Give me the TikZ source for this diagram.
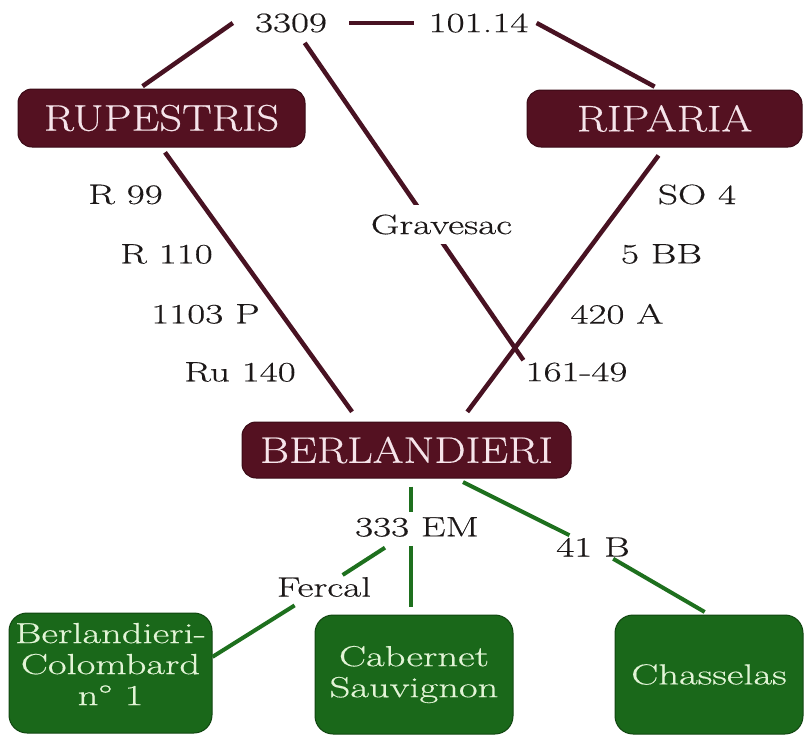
\documentclass[tikz,border=0pt]{standalone}
\usepackage{fontspec}
\setmainfont{Latin Modern Roman}[FakeStretch=1.4, FakeBold=0.4]
\newfontfamily\speciesfont{Latin Modern Roman}[FakeStretch=1.2, FakeBold=0.4]
\usepackage{tikz}
\definecolor{winecol}{RGB}{84,17,33}
\definecolor{wineedge}{RGB}{58,10,22}
\definecolor{winetext}{RGB}{246,228,234}
\definecolor{leafcol}{RGB}{26,104,26}
\definecolor{leafedge}{RGB}{16,70,16}
\definecolor{leaftext}{RGB}{226,244,214}
\definecolor{linewine}{RGB}{72,18,34}
\definecolor{lineleaf}{RGB}{30,112,30}
\definecolor{clonecol}{RGB}{28,24,24}
\tikzset{
  species/.style={draw=wineedge, fill=winecol, text=winetext, line width=1pt,
    rounded corners=14pt, font=\speciesfont\fontsize{37}{42}\selectfont},
  cultivar/.style={draw=leafedge, fill=leafcol, text=leaftext, line width=1pt,
    rounded corners=18pt, align=center, font=\fontsize{29}{31}\selectfont},
  clonelab/.style={text=clonecol, inner sep=2pt, font=\fontsize{28}{32}\selectfont},
  speciesline/.style={linewine, line width=4.5pt},
  graftline/.style={lineleaf, line width=4pt}
}

\begin{document}
\begin{tikzpicture}[x=1pt, y=-1pt]

  \useasboundingbox (0,0) rectangle (804,736);

  % Species boxes.
  \node[species, minimum width=287pt, minimum height=58pt] (rupestris) at (161.5,118) {RUPESTRIS};
  \node[species, minimum width=275pt, minimum height=57pt] (riparia) at (664.5,118.5) {RIPARIA};
  \node[species, minimum width=329pt, minimum height=56pt] (berlandieri) at (406.5,450) {BERLANDIERI};

  % Cultivar boxes.
  \node[cultivar, minimum width=203pt, minimum height=120pt, text depth=18pt] (bcolombard) at (110.5,673)
    {Berlandieri-\\Colombard\\n° 1};
  \node[cultivar, minimum width=198pt, minimum height=119pt] (cabernet) at (414,674.5)
    {Cabernet\\Sauvignon};
  \node[cultivar, minimum width=188pt, minimum height=119pt] (chasselas) at (709,674.5)
    {Chasselas};

  % Rootstock labels.
  \node[clonelab, inner xsep=22pt] (n3309) at (291,23) {3309};
  \node[clonelab, inner xsep=8pt] (n10114) at (478.5,23) {101.14};
  \node[clonelab] (r99) at (125.5,194.5) {R 99};
  \node[clonelab] (r110) at (166.5,254) {R 110};
  \node[clonelab] (p1103) at (205.5,314) {1103 P};
  \node[clonelab] (ru140) at (240,372) {Ru 140};
  \node[clonelab] (so4) at (697,194.5) {SO 4};
  \node[clonelab] (bb5) at (661.5,254) {5 BB};
  \node[clonelab] (a420) at (617,314) {420 A};
  \node[clonelab] (n16149) at (576.5,372) {161-49};
  \node[clonelab] (n333em) at (417,527) {333 EM};
  \node[clonelab] (fercal) at (324,587) {Fercal};
  \node[clonelab] (n41b) at (593,547) {41 B};

  % Crosses between species.
  \draw[speciesline, shorten >=4pt] (n3309.west) -- (rupestris.127);
  \draw[speciesline, shorten >=6pt] (n3309.east) -- (n10114.west);
  \draw[speciesline, shorten >=6pt] (n10114.east) -- (riparia.99);
  \draw[speciesline, shorten <=10pt] (n3309) -- (n16149.north west);
  \draw[speciesline, shorten <=6pt, shorten >=12pt] (rupestris.south) -- (berlandieri.149.5);
  \draw[speciesline, shorten <=10pt, shorten >=12pt] (riparia.south) -- (berlandieri.28.5);
  \node[clonelab, fill=white, inner ysep=9pt] (gravesac) at (441.5,224.5) {Gravesac};

  % Crosses with vinifera.
  \draw[graftline, shorten <=8pt, shorten >=3pt]
    (berlandieri.-81) -- (berlandieri.-81 |- n333em.north);
  \draw[graftline, shorten <=7pt, shorten >=8pt]
    (berlandieri.-81 |- n333em.south) -- (berlandieri.-81 |- cabernet.north);
  \draw[graftline, shorten <=16pt] (n333em) -- (fercal);
  \draw[graftline, shorten <=12pt] (fercal) -- (bcolombard.9);
  \draw[graftline, shorten <=8pt] (berlandieri.-30) -- (n41b);
  \draw[graftline, shorten >=5pt] (n41b) -- (chasselas.north);

\end{tikzpicture}
\end{document}
